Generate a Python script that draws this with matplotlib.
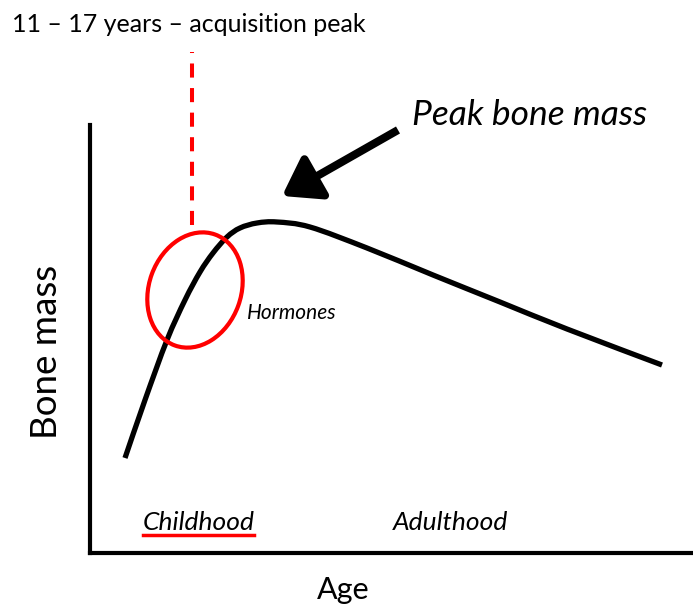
import matplotlib
matplotlib.use("Agg")
import matplotlib.pyplot as plt
from matplotlib.patches import Ellipse, FancyArrowPatch, PathPatch
from matplotlib.path import Path

# schematic bone mass curve (arbitrary units: age offset, bone mass)
age = [35, 55, 77, 95, 110, 123, 137, 150, 167, 187, 220, 277, 343, 410, 477, 572]
bone_mass = [95, 153, 213, 253, 281, 300, 316, 325, 330, 331, 326, 305, 278, 251, 224, 188]

# ellipse around the acquisition phase
ellipse_center = (105, 263)
ellipse_size = (92, 118)
peak_window_age = 102          # dashed marker position
peak_window_span = (328, 501)
arrow_tail = (308, 423)
arrow_tip = (192, 357)


def smooth_path(xs, ys):
    # catmull-rom through the points, drawn as cubic bezier segments
    pts = list(zip(xs, ys))
    verts = [pts[0]]
    codes = [Path.MOVETO]
    n = len(pts)
    for i in range(n - 1):
        p0 = pts[i - 1] if i > 0 else pts[i]
        p1 = pts[i]
        p2 = pts[i + 1]
        p3 = pts[i + 2] if i + 2 < n else pts[i + 1]
        c1 = (p1[0] + (p2[0] - p0[0]) / 6, p1[1] + (p2[1] - p0[1]) / 6)
        c2 = (p2[0] - (p3[0] - p1[0]) / 6, p2[1] - (p3[1] - p1[1]) / 6)
        verts += [c1, c2, p2]
        codes += [Path.CURVE4] * 3
    return Path(verts, codes)


W, H = 693, 610
fig = plt.figure(figsize=(W / 100, H / 100), dpi=100)
plt.rcParams['font.family'] = ['Lato', 'DejaVu Sans']

ax = fig.add_axes([90 / W, 57 / H, 603 / W, 428 / H])
ax.set_xlim(0, 603)
ax.set_ylim(0, 428)
for s in ["top", "right"]:
    ax.spines[s].set_visible(False)
for s in ["left", "bottom"]:
    ax.spines[s].set_linewidth(3)
ax.set_xticks([])
ax.set_yticks([])

ax.add_patch(PathPatch(smooth_path(age, bone_mass), fill=False, edgecolor="black",
                       lw=3.8, capstyle="butt", joinstyle="round"))

ax.add_patch(Ellipse(ellipse_center, ellipse_size[0], ellipse_size[1], angle=-20,
                     fill=False, edgecolor="#ff0000", lw=3))

ax.plot([peak_window_age, peak_window_age], peak_window_span, color="#ff0000", lw=2.9,
        dashes=(3.5, 2.6), clip_on=False)

arrow = FancyArrowPatch(arrow_tail, arrow_tip, arrowstyle="-|>,head_length=22,head_width=15",
                        mutation_scale=1, color="black", lw=5.8, clip_on=False,
                        shrinkA=0, shrinkB=0, capstyle="butt", joinstyle="round")
ax.add_patch(arrow)

def ft(px, py, s, **kw):
    fig.text(px / W, 1 - py / H, s, **kw)

ft(12, 24, "11 \u2013 17 years \u2013 acquisition peak", fontsize=18, va="center", ha="left")
ft(412, 115, "Peak bone mass", fontsize=25.5, style="italic", va="center", ha="left")
ft(247, 313, "Hormones", fontsize=15, style="italic", va="center", ha="left")
ft(143, 523, "Childhood", fontsize=19, style="italic", va="center", ha="left")
ft(393, 523, "Adulthood", fontsize=19, style="italic", va="center", ha="left")
ft(343, 590, "Age", fontsize=22, va="center", ha="center")
ft(47, 352, "Bone mass", fontsize=26.5, va="center", ha="center", rotation=90)

# red underline under Childhood
fig.add_artist(plt.Line2D([143 / W, 254 / W], [1 - 535 / H, 1 - 535 / H], color="#ff0000", lw=2.5))

fig.savefig("out.png", dpi=100)
